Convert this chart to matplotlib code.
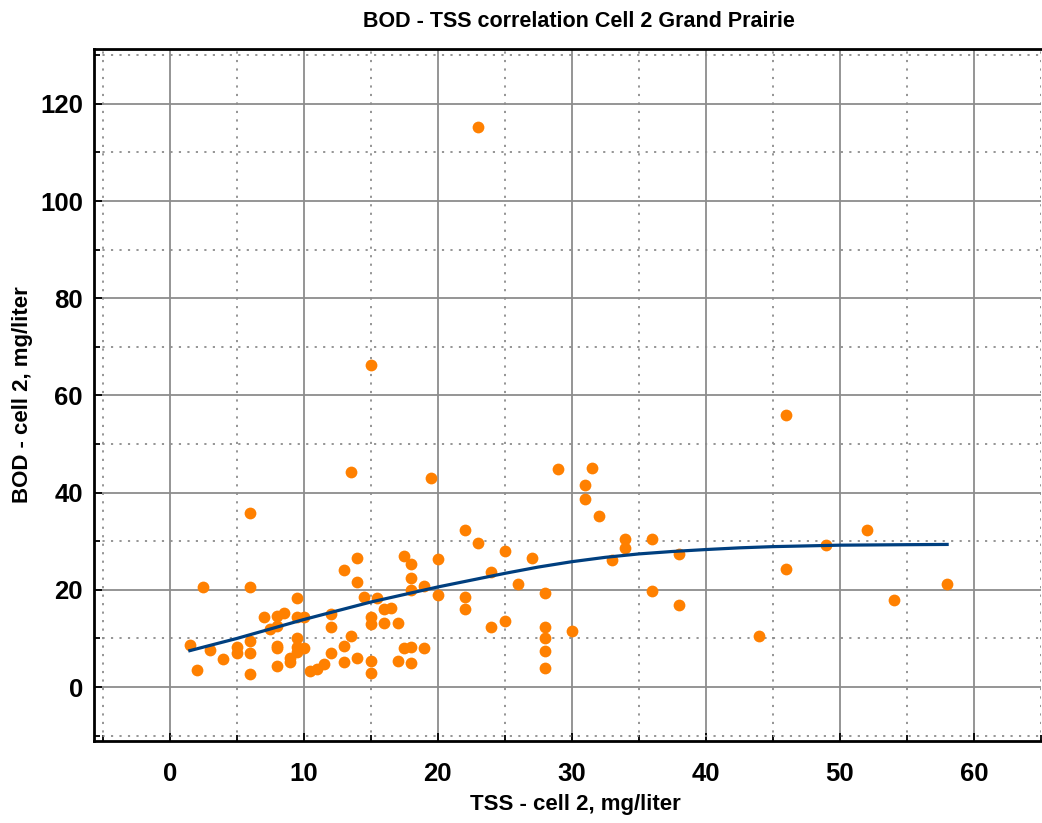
import matplotlib
matplotlib.use("Agg")
from matplotlib import pyplot as plt
from matplotlib.ticker import MultipleLocator

plt.rcParams['font.family'] = ['Liberation Sans', 'DejaVu Sans']

# measured TSS / BOD pairs (cell 2)
tss = [1.5, 2.0, 2.5, 3.0, 4.0, 5.0, 5.0, 6.0, 6.0, 6.0, 6.0, 6.0,
       7.0, 7.5, 8.0, 8.0, 8.0, 8.0, 8.0, 8.5, 9.0, 9.0, 9.5, 9.5,
       10.0, 9.5, 9.5, 10.0, 9.5, 10.5, 11.0, 11.5, 12.0, 12.0, 12.0,
       13.0, 13.0, 13.0, 13.5, 13.5, 14.0, 14.0, 14.0, 14.5, 15.0, 15.0,
       15.0, 15.0, 15.0, 15.5, 16.0, 16.5, 16.0, 17.0, 17.0, 17.5, 17.5,
       18.0, 18.0, 18.0, 18.0, 18.0, 19.0, 19.0, 19.5, 20.0, 20.0, 22.0,
       22.0, 22.0, 23.0, 23.0, 24.0, 24.0, 25.0, 25.0, 26.0, 27.0, 28.0,
       28.0, 28.0, 28.0, 28.0, 29.0, 30.0, 31.0, 31.0, 31.5, 32.0, 33.0,
       34.0, 34.0, 36.0, 36.0, 38.0, 38.0, 44.0, 46.0, 46.0, 49.0, 52.0,
       54.0, 58.0]
bod = [8.6, 3.5, 20.5, 7.7, 5.8, 8.3, 7.1, 9.5, 7.1, 2.7, 20.5, 35.8,
       14.4, 11.9, 14.6, 12.5, 8.5, 8.0, 4.3, 15.3, 5.9, 5.2, 18.4, 14.4,
       14.4, 10.2, 8.2, 8.1, 7.3, 3.4, 3.8, 4.7, 15.0, 12.4, 7.0,
       24.0, 8.4, 5.1, 10.5, 44.2, 26.5, 21.6, 6.0, 18.5, 14.5, 13.0,
       5.4, 2.8, 66.2, 18.4, 16.1, 16.3, 13.2, 13.1, 5.4, 27.0, 8.0,
       25.4, 22.4, 20.0, 8.2, 5.0, 20.9, 8.0, 43.0, 26.3, 18.9, 32.3,
       18.6, 16.1, 29.7, 115.2, 23.7, 12.3, 27.9, 13.6, 21.3, 26.5, 19.3,
       12.3, 10.2, 7.5, 3.9, 44.8, 11.6, 41.5, 38.6, 45.1, 35.2, 26.1,
       30.4, 28.6, 30.4, 19.8, 27.4, 16.8, 10.6, 56.0, 24.4, 29.3, 32.4,
       18.0, 21.3]

# fitted curve
fit_x = [1.5, 5, 10, 15, 20, 25, 27.5, 30, 32.5, 35, 37.5, 40, 42.5, 45, 50, 55, 58]
fit_y = [7.5, 10.0, 13.9, 17.5, 20.6, 23.4, 24.7, 25.8, 26.7, 27.4, 27.9, 28.3,
         28.65, 28.9, 29.2, 29.3, 29.35]

fig = plt.figure(figsize=(10.42, 8.23), dpi=100)
ax = fig.add_axes([0.0902, 0.0996, 0.9088, 0.8409])

ax.scatter(tss, bod, s=72, color="#ff8000", zorder=3, linewidths=0)
ax.plot(fit_x, fit_y, color="#003f7f", linewidth=2.3, zorder=4)

ax.set_xlim(-5.65, 65)
ax.set_ylim(-11.1, 131.3)
ax.xaxis.set_major_locator(MultipleLocator(10))
ax.xaxis.set_minor_locator(MultipleLocator(5))
ax.yaxis.set_major_locator(MultipleLocator(20))
ax.yaxis.set_minor_locator(MultipleLocator(10))

ax.set_axisbelow(True)
ax.grid(which="major", color="#8c8c8c", linestyle="-", linewidth=1.3)
ax.grid(which="minor", color="#8c8c8c", linestyle=(0, (1.2, 3.5)), linewidth=1.3)

ax.tick_params(which="both", direction="in", top=False, right=False, width=1.3)
ax.tick_params(which="major", length=6, labelsize=18.5)
ax.tick_params(axis="y", which="major", pad=8)
ax.tick_params(axis="x", which="major", pad=15)
ax.tick_params(which="minor", length=4)
for lab in ax.get_xticklabels() + ax.get_yticklabels():
    lab.set_fontweight("bold")
for side in ["left", "bottom", "top"]:
    ax.spines[side].set_linewidth(2)
ax.spines["right"].set_visible(False)

ax.set_xlabel("TSS - cell 2, mg/liter", fontsize=16, fontweight="bold", labelpad=9)
ax.xaxis.set_label_coords(0.508, -0.077)
ax.set_ylabel("BOD - cell 2, mg/liter", fontsize=16, fontweight="bold", labelpad=5)
ax.set_title("BOD - TSS correlation Cell 2 Grand Prairie", fontsize=15.5,
             fontweight="bold", x=0.512, pad=16)

fig.savefig("out.png", dpi=100)
